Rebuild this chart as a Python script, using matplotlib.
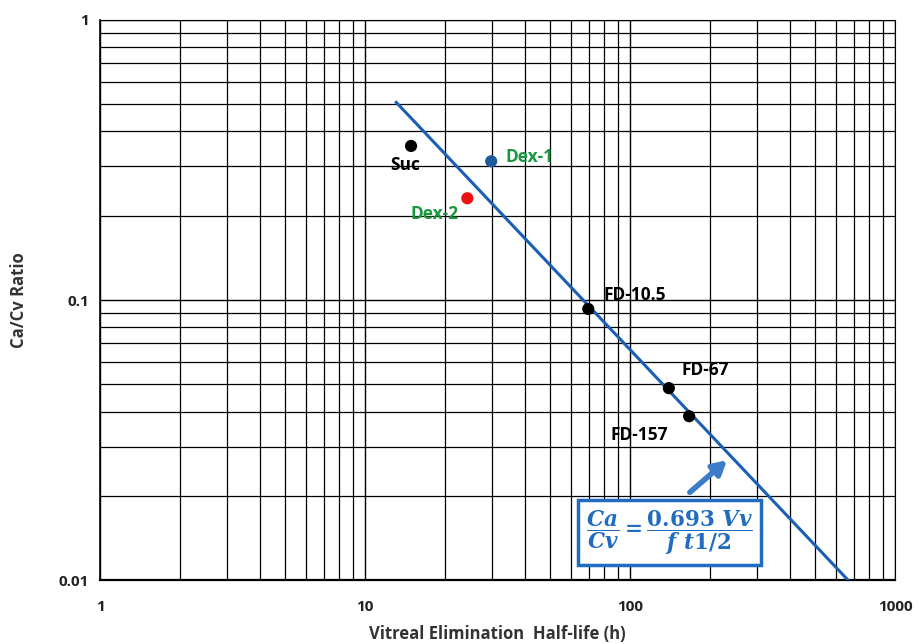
import numpy as np
import matplotlib.pyplot as plt
from matplotlib.ticker import FixedLocator, FixedFormatter, LogLocator, NullFormatter

plt.rcParams['font.family'] = ['Open Sans', 'DejaVu Sans']
plt.rcParams['mathtext.fontset'] = 'custom'
plt.rcParams['mathtext.it'] = 'DejaVu Serif:bold:italic'
plt.rcParams['mathtext.rm'] = 'DejaVu Serif:bold'

# Compounds: half-life (h) vs Ca/Cv ratio
names = ['Suc', 'Dex-1', 'Dex-2', 'FD-10.5', 'FD-67', 'FD-157']
half_life = [14.9, 29.9, 24.3, 69.5, 140, 167]
ratio = [0.355, 0.313, 0.231, 0.093, 0.0485, 0.0385]
point_colors = ['black', '#1f5a9a', '#ee1111', 'black', 'black', 'black']
label_colors = ['black', '#1a9641', '#1a9641', 'black', 'black', 'black']

# Fitted line end points
fit_x = [13.1, 665]
fit_y = [0.508, 0.01]

x_ticks = [1, 10, 100, 1000]
x_tick_labels = ['1', '10', '100', '1000']
y_ticks = [0.01, 0.1, 1]
y_tick_labels = ['0.01', '0.1', '1']

# label offsets in pixels (dx, dy, ha)
offsets = [(-6, -19, 'center'), (14, 4, 'left'), (-33, -16, 'center'),
           (15, 14, 'left'), (13, 18, 'left'), (-79, -19, 'left')]

fig = plt.figure(figsize=(9.19, 6.44), dpi=100)
ax = fig.add_axes([0.109, 0.099, 0.865, 0.870])
ax.set_xscale('log')
ax.set_yscale('log')
ax.set_xlim(1, 1000)
ax.set_ylim(0.01, 1)

ax.xaxis.set_major_locator(FixedLocator(x_ticks))
ax.xaxis.set_major_formatter(FixedFormatter(x_tick_labels))
ax.yaxis.set_major_locator(FixedLocator(y_ticks))
ax.yaxis.set_major_formatter(FixedFormatter(y_tick_labels))
ax.xaxis.set_minor_locator(LogLocator(base=10, subs=np.arange(2, 10)))
ax.yaxis.set_minor_locator(LogLocator(base=10, subs=np.arange(2, 10)))
ax.xaxis.set_minor_formatter(NullFormatter())
ax.yaxis.set_minor_formatter(NullFormatter())

ax.grid(True, which='major', color='black', linewidth=1.0)
ax.grid(True, which='minor', color='black', linewidth=0.9)
ax.tick_params(which='both', length=0)
ax.tick_params(axis='x', pad=14, labelsize=11)
ax.tick_params(axis='y', pad=8, labelsize=11)
for lab in ax.get_xticklabels() + ax.get_yticklabels():
    lab.set_fontweight('bold')
    lab.set_color('#222222')

for side in ['top', 'right']:
    ax.spines[side].set_linewidth(0.8)
ax.spines['left'].set_linewidth(1.2)
ax.spines['bottom'].set_linewidth(1.6)

ax.plot(fit_x, fit_y, color='#1a5fb4', linewidth=2.2, zorder=3)

ax.scatter(half_life, ratio, s=60, c=point_colors, zorder=4)
for n, x, y, c, (dx, dy, ha) in zip(names, half_life, ratio, label_colors, offsets):
    ax.annotate(n, (x, y), xytext=(dx, dy), textcoords='offset pixels',
                ha=ha, va='center', fontsize=12.5, fontweight='bold', color=c)

# formula box and arrow
ax.annotate('', xy=(232, 0.0268), xytext=(168, 0.0206),
            arrowprops=dict(arrowstyle='-|>,head_width=0.45,head_length=0.8',
                            color='#3d7cc9', lw=4, shrinkA=0, shrinkB=0))
ax.text(0.716, 0.085, r'$\dfrac{Ca}{Cv} = \dfrac{0.693\ Vv}{f\ t1/2}$',
        transform=ax.transAxes, ha='center', va='center', fontsize=15.5,
        color='#1f6cc0', zorder=5,
        bbox=dict(boxstyle='square,pad=0.38', facecolor='white',
                  edgecolor='#1f6cc0', linewidth=2.5))

ax.set_xlabel('Vitreal Elimination  Half-life (h)', fontsize=12,
              fontweight='bold', color='#333333', labelpad=8)
ax.set_ylabel('Ca/Cv Ratio', fontsize=12, fontweight='bold',
              color='#333333', labelpad=22)

fig.savefig('out.png', dpi=100)
